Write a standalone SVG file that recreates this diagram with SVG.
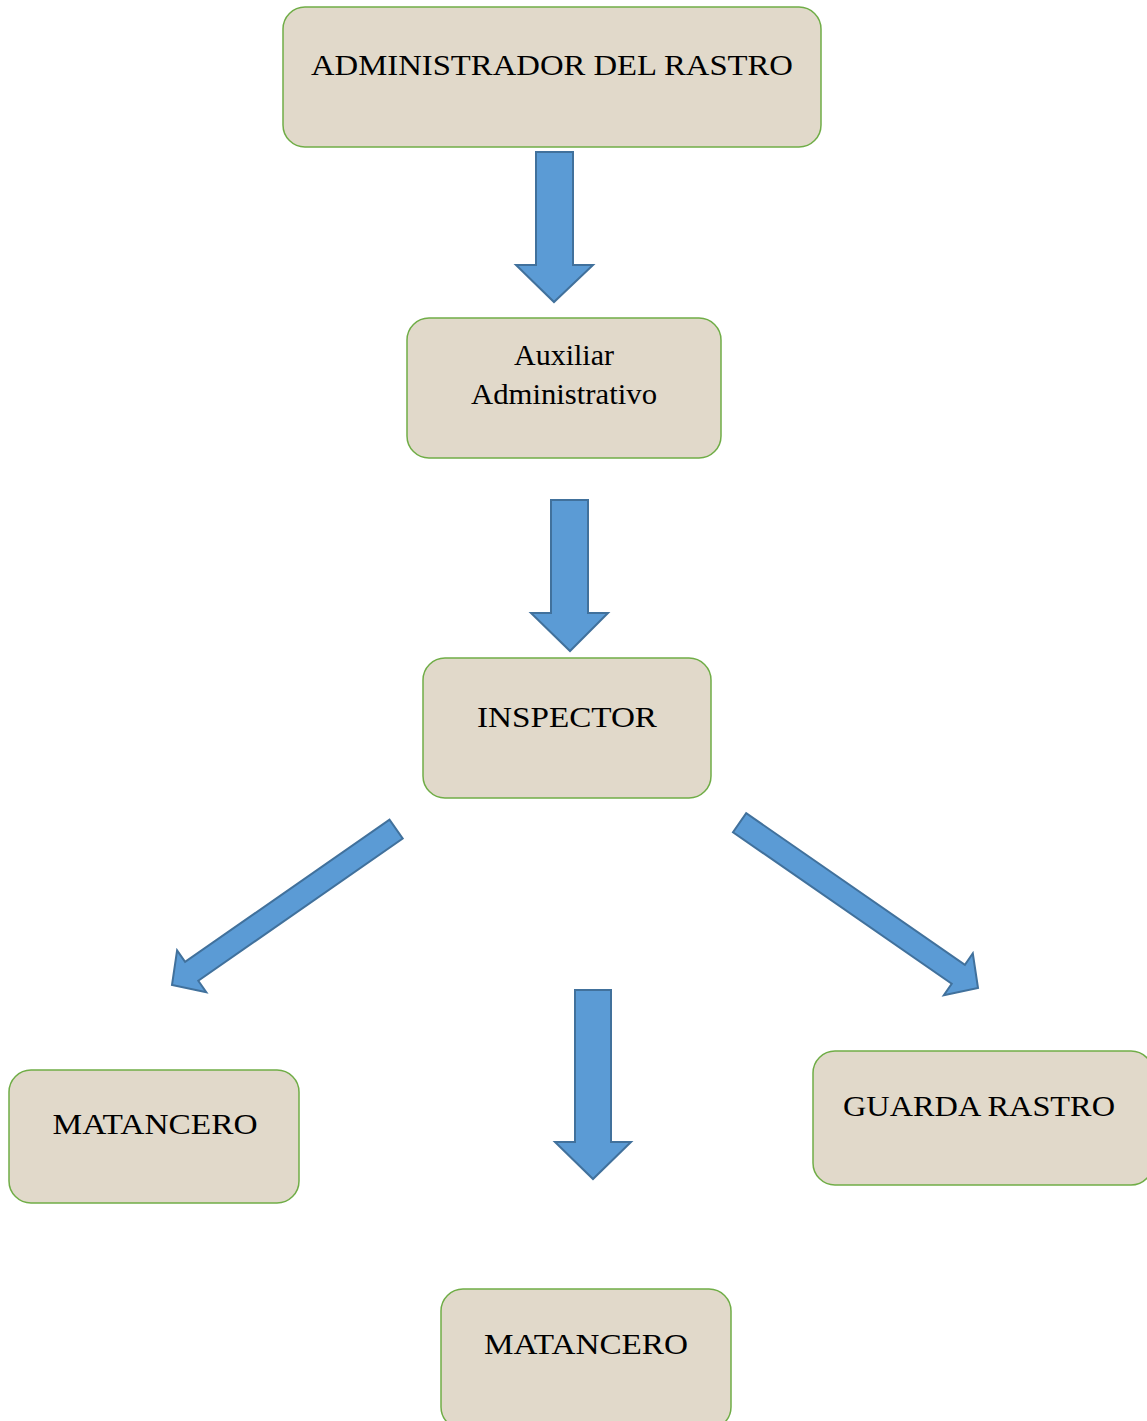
<svg xmlns="http://www.w3.org/2000/svg" width="1147" height="1421" viewBox="0 0 1147 1421">
<style>
.box{fill:#e1d9ca;stroke:#70ad47;stroke-width:1.5}
.arr{fill:#5b9bd5;stroke:#41719c;stroke-width:2;stroke-linejoin:miter}
.lbl{font-size:30px;fill:#000;text-anchor:middle}
</style>
<rect width="1147" height="1421" fill="#fff"/>
<g id="connectors">
<polygon class="arr" points="536,152 573,152 573,265 593,265 554,302 516,265 536,265"/>
<polygon class="arr" points="551,500 588,500 588,613 608,613 570,651 531,613 551,613"/>
<polygon class="arr" points="172,985 177.1,950.4 185.1,961.9 389.5,819.7 402.7,838.5 198.3,980.7 206.3,992.2"/>
<polygon class="arr" points="978,988 972.8,953.3 964.9,964.8 746.2,813.2 733,832.2 951.7,983.8 943.8,995.3"/>
<polygon class="arr" points="575,990 611,990 611,1142 631,1142 593,1179 555,1142 575,1142"/>
</g>
<g font-family="'Liberation Serif', 'Times New Roman', serif">
<g id="node-admin">
<rect class="box" x="283" y="7" width="538" height="140" rx="22"/>
<text class="lbl" x="552" y="75" textLength="482" lengthAdjust="spacingAndGlyphs">ADMINISTRADOR DEL RASTRO</text>
</g>
<g id="node-auxiliar">
<rect class="box" x="407" y="318" width="314" height="140" rx="22"/>
<text class="lbl" x="564" y="365" textLength="100" lengthAdjust="spacingAndGlyphs">Auxiliar</text>
<text class="lbl" x="564" y="404" textLength="186" lengthAdjust="spacingAndGlyphs">Administrativo</text>
</g>
<g id="node-inspector">
<rect class="box" x="423" y="658" width="288" height="140" rx="22"/>
<text class="lbl" x="567" y="727" textLength="180" lengthAdjust="spacingAndGlyphs">INSPECTOR</text>
</g>
<g id="node-matancero-1">
<rect class="box" x="9" y="1070" width="290" height="133" rx="22"/>
<text class="lbl" x="155" y="1134" textLength="205" lengthAdjust="spacingAndGlyphs">MATANCERO</text>
</g>
<g id="node-guarda">
<rect class="box" x="813" y="1051" width="340" height="134" rx="22"/>
<text class="lbl" x="979" y="1116" textLength="272" lengthAdjust="spacingAndGlyphs">GUARDA RASTRO</text>
</g>
<g id="node-matancero-2">
<rect class="box" x="441" y="1289" width="290" height="140" rx="22"/>
<text class="lbl" x="586" y="1354" textLength="204" lengthAdjust="spacingAndGlyphs">MATANCERO</text>
</g>
</g>
</svg>
